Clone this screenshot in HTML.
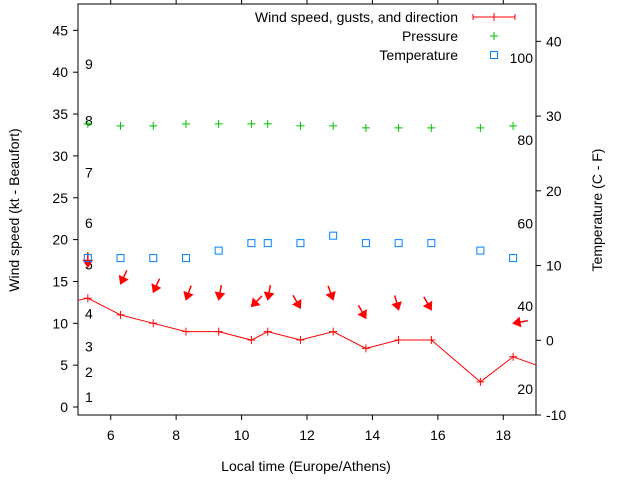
<!DOCTYPE html>
<html><head><meta charset="utf-8"><style>
body{margin:0;background:#fff}
svg{display:block;font-family:"Liberation Sans",sans-serif}
</style></head><body>
<svg id="c" width="640" height="480"></svg>
<script>
const times=[5.3,6.3,7.3,8.3,9.3,10.3,10.8,11.8,12.8,13.8,14.8,15.8,17.3,18.3];
const windLineTimes=[4.3,5.3,6.3,7.3,8.3,9.3,10.3,10.8,11.8,12.8,13.8,14.8,15.8,17.3,18.3,19.3];
const windSpeed=[12.2,13,11,10,9,9,8,9,8,9,7,8,8,3,6,4.6];
const gustTimes=[5.3,6.3,7.3,8.3,9.3,10.3,10.8,11.8,12.8,13.8,14.8,15.8,18.3];
const gustSpeed=[16.7,14.7,13.7,12.8,12.8,12,12.8,11.8,12.8,10.6,11.6,11.6,10];
const windDir=[0,25,25,20,10,45,10,330,340,330,345,330,80];
const pressure=[28.96,28.69,28.69,28.96,28.96,28.96,28.96,28.69,28.69,28.42,28.42,28.42,28.42,28.69];
const temperature=[11,11,11,11,12,13,13,13,14,13,13,13,12,11];
const xTicks=[6,8,10,12,14,16,18];
const yTicks=[0,5,10,15,20,25,30,35,40,45];
const y2Ticks=[-10,0,10,20,30,40];
const beaufortLabels=["1","2","3","4","5","6","7","8","9"];
const beaufortPos=[1.2,4.2,7.2,11.2,17,22,28,34.2,41];
const pressureLabels=["20","40","60","80","100"];
const pressurePos=[-6.5,4.6,15.6,26.8,37.8];

const L=78,R=536,T=4,B=415;
const X=v=>L+(v-5)/14*(R-L);
const Y=v=>407-v*8.37;
const Y2=v=>B-(v+10)/55*(B-T);
const svg=document.getElementById('c');
const NS='http://www.w3.org/2000/svg';
function mk(tag,attrs,name,parent){const e=document.createElementNS(NS,tag);for(const k in attrs)e.setAttribute(k,attrs[k]);


(parent||svg).appendChild(e);return e;}
function txt(x,y,s,name,anchor,extra){const t=mk('text',Object.assign({x:x,y:y,'font-size':14,'text-anchor':anchor||'middle',fill:'#000'},extra||{}),name);t.textContent=s;return t;}

const defs=mk('defs',{},'defs');
const cp=mk('clipPath',{id:'cp'},'clip',defs);
mk('rect',{x:L,y:T,width:R-L,height:B-T},'clip-rect',cp);

mk('rect',{x:L,y:T,width:R-L,height:B-T,fill:'none',stroke:'#000','stroke-width':1},'plot-border');
xTicks.forEach(v=>{mk('line',{x1:X(v),x2:X(v),y1:B,y2:B+5,stroke:'#000'},'x-tick');mk('line',{x1:X(v),x2:X(v),y1:T,y2:T-5,stroke:'#000'},'x-tick-top');txt(X(v),B+25,String(v),'x-tick-label');});
yTicks.forEach(v=>{mk('line',{x1:L-5,x2:L,y1:Y(v),y2:Y(v),stroke:'#000'},'y-tick');txt(L-10,Y(v)+5,String(v),'y-tick-label','end');});
y2Ticks.forEach(v=>{mk('line',{x1:R,x2:R+5,y1:Y2(v),y2:Y2(v),stroke:'#000'},'y2-tick');txt(R+6,Y2(v)+5,String(v),'y2-tick-label','start',{'dx':4});});
beaufortLabels.forEach((s,i)=>txt(85,Y(beaufortPos[i])+5,s,'beaufort-label','start'));
pressureLabels.forEach((s,i)=>txt(533,Y2(pressurePos[i])+5,s,'pressure-label','end'));
txt(306,471,'Local time (Europe/Athens)','x-axis-title');
txt(0,0,'Wind speed (kt - Beaufort)','y-axis-title','middle',{transform:'translate(19,210) rotate(-90)'});
txt(0,0,'Temperature (C - F)','y2-axis-title','middle',{transform:'translate(602,210) rotate(-90)'});

const g=mk('g',{'clip-path':'url(#cp)'},'series');
mk('polyline',{points:windLineTimes.map((t,i)=>X(t)+','+Y(windSpeed[i])).join(' '),fill:'none',stroke:'#f00','stroke-width':1},'wind-line',g);
windLineTimes.forEach((t,i)=>{const x=X(t),y=Y(windSpeed[i]);mk('path',{d:`M${x-4},${y}h8M${x},${y-4}v8`,stroke:'#f00'},'wind-point',g);});
gustTimes.forEach((t,i)=>{const x=X(t),y=Y(gustSpeed[i]);const a=windDir[i]*Math.PI/180;
const dx=Math.sin(a),dy=-Math.cos(a);
const x0=x+dx*15,y0=y+dy*15;
mk('line',{x1:x0,y1:y0,x2:x,y2:y,stroke:'#f00','stroke-width':1.5},'gust-arrow-shaft',g);
const px=-dy,py=dx;const hx=x+dx*7,hy=y+dy*7;
mk('polygon',{points:`${x},${y} ${hx+px*4.5},${hy+py*4.5} ${hx-px*4.5},${hy-py*4.5}`,fill:'#f00',stroke:'#f00'},'gust-arrow-head',g);});
times.forEach((t,i)=>{const x=X(t),y=Y2(pressure[i]);mk('path',{d:`M${x-4},${y}h8M${x},${y-4}v8`,stroke:'#00c000'},'pressure-point',g);});
times.forEach((t,i)=>{const x=X(t),y=Y2(temperature[i]);mk('rect',{x:x-3.5,y:y-3.5,width:7,height:7,fill:'none',stroke:'#0080ff'},'temperature-point',g);});

txt(458,22,'Wind speed, gusts, and direction','legend-wind','end');
mk('path',{d:'M473,17h42M473,14v6M515,14v6M494,13v8',stroke:'#f00'},'legend-wind-sample');
txt(458,41,'Pressure','legend-pressure','end');
mk('path',{d:'M490,36h8M494,32v8',stroke:'#00c000'},'legend-pressure-sample');
txt(458,60,'Temperature','legend-temperature','end');
mk('rect',{x:490.5,y:51.5,width:7,height:7,fill:'none',stroke:'#0080ff'},'legend-temperature-sample');
</script>
</body></html>
